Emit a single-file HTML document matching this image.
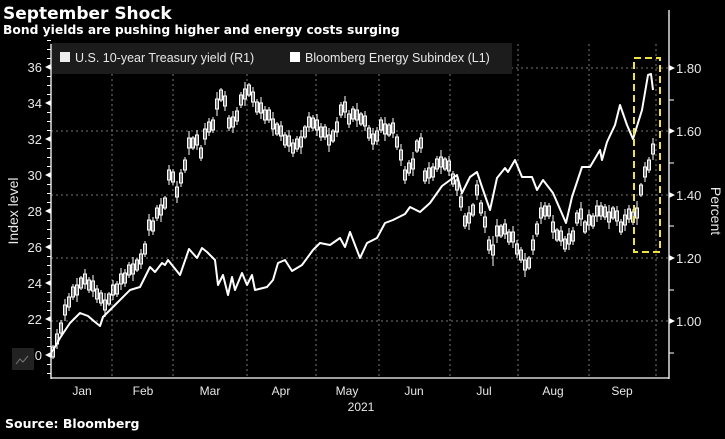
<!DOCTYPE html>
<html><head><meta charset="utf-8"><style>
body{margin:0;background:#000;width:725px;height:434px;overflow:hidden;font-family:"Liberation Sans",sans-serif;}
svg text{font-family:"Liberation Sans",sans-serif;fill:#e8e8e8;}
</style></head><body>
<svg width="725" height="434" xmlns="http://www.w3.org/2000/svg">
<text x="3" y="19" style="font-family:'DejaVu Sans',sans-serif;font-size:17px;font-weight:bold;fill:#fff">September Shock</text>
<text x="3" y="34" style="font-family:'DejaVu Sans',sans-serif;font-size:12.3px;font-weight:bold;fill:#fff">Bond yields are pushing higher and energy costs surging</text>
<g stroke="#777" stroke-dasharray="2,3" stroke-width="1">
<line x1="51" x2="669" y1="68" y2="68"/><line x1="51" x2="669" y1="131" y2="131"/><line x1="51" x2="669" y1="195" y2="195"/><line x1="51" x2="669" y1="258" y2="258"/><line x1="51" x2="669" y1="321" y2="321"/>
<line x1="112" x2="112" y1="44" y2="378"/><line x1="173" x2="173" y1="44" y2="378"/><line x1="247" x2="247" y1="44" y2="378"/><line x1="316" x2="316" y1="44" y2="378"/><line x1="379" x2="379" y1="44" y2="378"/><line x1="450" x2="450" y1="44" y2="378"/><line x1="518" x2="518" y1="44" y2="378"/><line x1="589" x2="589" y1="44" y2="378"/><line x1="656" x2="656" y1="44" y2="378"/>
</g>
<rect x="52" y="43" width="460" height="31" fill="#1c1c1c"/>
<rect x="60" y="52" width="10" height="10" fill="#eee"/>
<text x="75" y="62" style="font-size:12.5px">U.S. 10-year Treasury yield (R1)</text>
<rect x="290" y="52" width="10" height="10" fill="#fff"/>
<text x="305" y="62" style="font-size:12.5px">Bloomberg Energy Subindex (L1)</text>
<g stroke="#fff" stroke-width="1.3"><line x1="51" y1="44" x2="51" y2="379"/><line x1="51" y1="378" x2="669" y2="378"/><line x1="669" y1="10" x2="669" y2="379"/></g>
<line x1="49" x2="49" y1="40" y2="378" stroke="#fff" stroke-width="4" stroke-dasharray="1,8"/>
<g fill="#fff"><path d="M45,355 l6,-3 v6z M45,319 l6,-3 v6z M45,283 l6,-3 v6z M45,247 l6,-3 v6z M45,211 l6,-3 v6z M45,175 l6,-3 v6z M45,139 l6,-3 v6z M45,103 l6,-3 v6z M45,67 l6,-3 v6z"/>
<path d="M669,65 l6,3 -6,3z M669,128 l6,3 -6,3z M669,192 l6,3 -6,3z M669,255 l6,3 -6,3z M669,318 l6,3 -6,3z"/></g>
<g stroke="#fff"><line x1="669" x2="674" y1="100" y2="100"/><line x1="669" x2="674" y1="163" y2="163"/><line x1="669" x2="674" y1="226" y2="226"/><line x1="669" x2="674" y1="290" y2="290"/><line x1="669" x2="674" y1="353" y2="353"/></g>
<g style="font-size:13px" text-anchor="end">
<text x="42" y="360">20</text><text x="42" y="324">22</text><text x="42" y="288">24</text><text x="42" y="252">26</text><text x="42" y="216">28</text><text x="42" y="180">30</text><text x="42" y="144">32</text><text x="42" y="108">34</text><text x="42" y="72">36</text></g>
<g style="font-size:13px"><text x="676" y="73">1.80</text><text x="676" y="136">1.60</text><text x="676" y="200">1.40</text><text x="676" y="263">1.20</text><text x="676" y="326">1.00</text></g>
<g style="font-size:12px" text-anchor="middle">
<text x="82" y="395">Jan</text><text x="143" y="395">Feb</text><text x="210" y="395">Mar</text><text x="281" y="395">Apr</text><text x="347" y="395">May</text><text x="414" y="395">Jun</text><text x="484" y="395">Jul</text><text x="553" y="395">Aug</text><text x="622" y="395">Sep</text>
<text x="361" y="411">2021</text></g>
<text x="5" y="428" style="font-family:'DejaVu Sans',sans-serif;font-size:12.5px;font-weight:bold;fill:#fff">Source: Bloomberg</text>
<text transform="translate(18,211) rotate(-90)" text-anchor="middle" style="font-size:14px">Index level</text>
<text transform="translate(711,211) rotate(90)" text-anchor="middle" style="font-size:14px">Percent</text>
<path fill="none" stroke="#fff" stroke-width="1" d="
M53 345V359M51.5 347h3v10h-3z M57 329V349M55.5 334h3v10h-3z M61 320V336M59.5 323h3v10h-3z M65 299V321M63.5 305h3v10h-3z M69 293V311M67.5 297h3v10h-3z M73 284V300M71.5 287h3v10h-3z M77 278V302M75.5 285h3v10h-3z
M81 276V290M79.5 278h3v10h-3z M85 269V289M83.5 274h3v10h-3z M89 277V293M87.5 280h3v10h-3z M93 275V297M91.5 281h3v10h-3z M97 285V303M95.5 289h3v10h-3z M101 290V306M99.5 293h3v10h-3z M105 293V317M103.5 300h3v10h-3z
M109 292V306M107.5 294h3v10h-3z M113 280V300M111.5 285h3v10h-3z M117 281V297M115.5 284h3v10h-3z M121 268V290M119.5 274h3v10h-3z M125 269V287M123.5 273h3v10h-3z M129 262V278M127.5 265h3v10h-3z M133 257V281M131.5 264h3v10h-3z
M137 258V272M135.5 260h3v10h-3z M141 249V269M139.5 254h3v10h-3z M145 241V257M143.5 244h3v10h-3z M149 214V236M147.5 220h3v10h-3z M153 217V235M151.5 221h3v10h-3z M157 205V221M155.5 208h3v10h-3z M161 198V222M159.5 205h3v10h-3z
M165 196V210M163.5 198h3v10h-3z M169 165V185M167.5 170h3v10h-3z M173 169V185M171.5 172h3v10h-3z M177 181V203M175.5 187h3v10h-3z M181 169V187M179.5 173h3v10h-3z M185 157V173M183.5 160h3v10h-3z M189 131V155M187.5 138h3v10h-3z
M193 136V150M191.5 138h3v10h-3z M197 130V150M195.5 135h3v10h-3z M201 145V161M199.5 148h3v10h-3z M205 123V145M203.5 129h3v10h-3z M209 118V136M207.5 122h3v10h-3z M213 117V133M211.5 120h3v10h-3z M217 92V116M215.5 99h3v10h-3z
M221 88V102M219.5 90h3v10h-3z M225 91V111M223.5 96h3v10h-3z M229 115V131M227.5 118h3v10h-3z M233 111V133M231.5 117h3v10h-3z M237 107V125M235.5 111h3v10h-3z M241 92V108M239.5 95h3v10h-3z M245 82V106M243.5 89h3v10h-3z
M249 83V97M247.5 85h3v10h-3z M253 87V107M251.5 92h3v10h-3z M257 99V115M255.5 102h3v10h-3z M261 97V119M259.5 103h3v10h-3z M265 106V124M263.5 110h3v10h-3z M269 107V123M267.5 110h3v10h-3z M273 112V136M271.5 119h3v10h-3z
M277 122V136M275.5 124h3v10h-3z M281 121V141M279.5 126h3v10h-3z M285 132V148M283.5 135h3v10h-3z M289 130V152M287.5 136h3v10h-3z M293 139V157M291.5 143h3v10h-3z M297 136V152M295.5 139h3v10h-3z M301 130V154M299.5 137h3v10h-3z
M305 125V139M303.5 127h3v10h-3z M309 112V132M307.5 117h3v10h-3z M313 115V131M311.5 118h3v10h-3z M317 114V136M315.5 120h3v10h-3z M321 123V141M319.5 127h3v10h-3z M325 124V140M323.5 127h3v10h-3z M329 128V152M327.5 135h3v10h-3z
M333 129V143M331.5 131h3v10h-3z M337 117V137M335.5 122h3v10h-3z M341 102V118M339.5 105h3v10h-3z M345 96V118M343.5 102h3v10h-3z M349 110V128M347.5 114h3v10h-3z M353 106V122M351.5 109h3v10h-3z M357 103V127M355.5 110h3v10h-3z
M361 112V126M359.5 114h3v10h-3z M365 111V131M363.5 116h3v10h-3z M369 125V141M367.5 128h3v10h-3z M373 128V150M371.5 134h3v10h-3z M377 127V145M375.5 131h3v10h-3z M381 117V133M379.5 120h3v10h-3z M385 117V141M383.5 124h3v10h-3z
M389 123V137M387.5 125h3v10h-3z M393 118V138M391.5 123h3v10h-3z M397 134V150M395.5 137h3v10h-3z M401 144V166M399.5 150h3v10h-3z M405 166V184M403.5 170h3v10h-3z M409 160V176M407.5 163h3v10h-3z M413 152V176M411.5 159h3v10h-3z
M417 139V153M415.5 141h3v10h-3z M421 133V153M419.5 138h3v10h-3z M425 168V184M423.5 171h3v10h-3z M429 162V184M427.5 168h3v10h-3z M433 163V181M431.5 167h3v10h-3z M437 156V172M435.5 159h3v10h-3z M441 150V174M439.5 157h3v10h-3z
M445 157V171M443.5 159h3v10h-3z M449 156V176M447.5 161h3v10h-3z M453 171V187M451.5 174h3v10h-3z M457 174V196M455.5 180h3v10h-3z M461 193V211M459.5 197h3v10h-3z M465 213V229M463.5 216h3v10h-3z M469 206V230M467.5 213h3v10h-3z
M473 203V217M471.5 205h3v10h-3z M477 180V200M475.5 185h3v10h-3z M481 200V216M479.5 203h3v10h-3z M485 211V233M483.5 217h3v10h-3z M489 236V254M487.5 240h3v10h-3z M493 236V266M491.5 245h3v10h-3z M497 219V243M495.5 226h3v10h-3z
M501 224V238M499.5 226h3v10h-3z M505 219V239M503.5 224h3v10h-3z M509 229V245M507.5 232h3v10h-3z M513 226V248M511.5 232h3v10h-3z M517 240V258M515.5 244h3v10h-3z M521 247V263M519.5 250h3v10h-3z M525 253V277M523.5 260h3v10h-3z
M529 256V270M527.5 258h3v10h-3z M533 235V255M531.5 240h3v10h-3z M537 221V237M535.5 224h3v10h-3z M541 202V224M539.5 208h3v10h-3z M545 202V220M543.5 206h3v10h-3z M549 203V219M547.5 206h3v10h-3z M553 215V239M551.5 222h3v10h-3z
M557 228V242M555.5 230h3v10h-3z M561 226V246M559.5 231h3v10h-3z M565 236V252M563.5 239h3v10h-3z M569 228V250M567.5 234h3v10h-3z M573 227V245M571.5 231h3v10h-3z M577 210V226M575.5 213h3v10h-3z M581 202V226M579.5 209h3v10h-3z
M585 220V234M583.5 222h3v10h-3z M589 210V230M587.5 215h3v10h-3z M593 213V229M591.5 216h3v10h-3z M597 200V222M595.5 206h3v10h-3z M601 202V220M599.5 206h3v10h-3z M605 204V220M603.5 207h3v10h-3z M609 205V229M607.5 212h3v10h-3z
M613 206V220M611.5 208h3v10h-3z M617 206V226M615.5 211h3v10h-3z M621 219V235M619.5 222h3v10h-3z M625 209V231M623.5 215h3v10h-3z M629 205V223M627.5 209h3v10h-3z M633 209V225M631.5 212h3v10h-3z M637 201V225M635.5 208h3v10h-3z
M641 183V197M639.5 185h3v10h-3z M645 162V182M643.5 167h3v10h-3z M649 157V173M647.5 160h3v10h-3z M653 138V160M651.5 144h3v10h-3z"/>
<polyline fill="none" stroke="#fff" stroke-width="2" stroke-linejoin="round" points="52,352 60,338 70,323 80,313 88,316 95,322 100,326 103,317 113,307 130,290 140,287 150,267 155,272 162,263 165,265 168,260 180,275 189,249 197,258 202,248 207,252 215,260 218,285 223,275 228,295 232,277 235,290 242,273 247,285 252,275 255,290 267,287 273,280 278,263 285,260 292,271 302,265 313,250 320,243 330,245 340,238 345,247 350,232 360,258 367,243 377,238 385,223 393,220 405,214 410,207 420,212 430,203 442,186 457,175 462,193 470,177 477,172 482,187 490,210 497,178 505,168 508,172 515,160 522,177 532,177 537,190 543,180 553,193 566,223 572,197 582,167 590,167 600,150 602,160 607,142 615,125 620,105 627,125 633,139 642,110 648,75 651,74 653,90"/>
<rect x="634" y="58" width="26" height="194" fill="none" stroke="#f0e040" stroke-width="2" stroke-dasharray="7,4"/>
<rect x="12" y="348" width="22" height="22" fill="#222"/>
<path d="M16,364 l4,-5 3,3 5,-6" stroke="#777" fill="none"/>
</svg>
</body></html>
